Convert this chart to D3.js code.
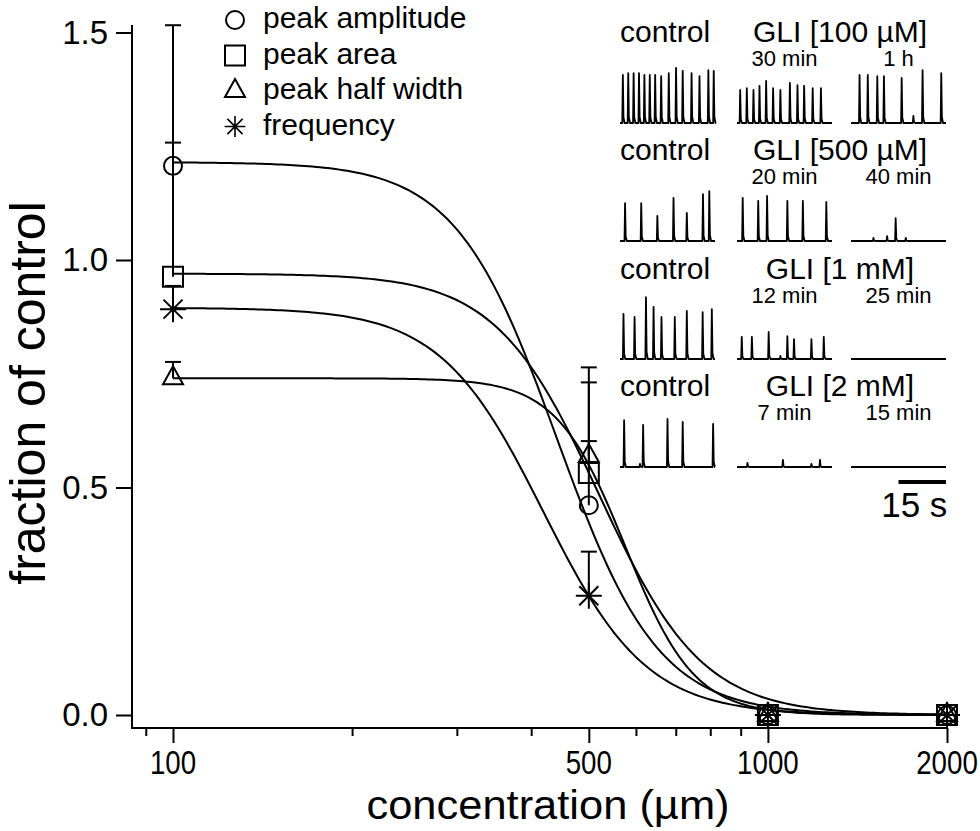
<!DOCTYPE html>
<meta charset="utf-8">
<script src="https://d3js.org/d3.v7.min.js"></script>
<style>
body { margin: 0; background: #fff; }
svg { font-family: "Liberation Sans", Arial, sans-serif; }
</style>
<div id="main"></div>
<script>

// concentrations (µM) and mean fraction of control, upper error bars
const conc = [100, 500, 1000, 2000];
const amplitude    = [1.207, 0.461, 0, 0];
const amplitudeErr = [0.309, 0.303, 0, 0];
const area         = [0.963, 0.532, 0, 0];
const areaErr      = [0.295, 0.199, 0, 0];
const halfWidth    = [0.740, 0.569, 0, 0];
const halfWidthErr = [0.036, 0.033, 0, 0];
const frequency    = [0.892, 0.262, 0, 0];
const frequencyErr = [0.051, 0.097, 0, 0];

// Hill fits: top, EC50 (µM), Hill coefficient
const fitTop  = [1.215, 0.970, 0.740, 0.895];
const fitEC50 = [442, 520, 576, 419];
const fitHill = [5.1, 5.0, 7.5, 5.0];

const seriesNames = ["peak amplitude", "peak area", "peak half width", "frequency"];
const seriesSymbols = ["circle", "square", "triangle", "asterisk"];

const xMajor = [100, 500, 1000, 2000];
const xMinor = [90, 200, 300, 400, 600, 700, 800, 900];
const yTicks = [0, 0.5, 1.0, 1.5];

// inset recordings: spikes as [time (s), relative amplitude]
const insetTitles = ["GLI [100 µM]", "GLI [500 µM]", "GLI [1 mM]", "GLI [2 mM]"];
const insetTimes = [["30 min", "1 h"], ["20 min", "40 min"], ["12 min", "25 min"], ["7 min", "15 min"]];
const ctl100 = [[0.9,.80],[2.6,.83],[4.3,.83],[6.0,.83],[7.7,.80],[9.4,.80],[11.1,.80],[13.0,.78],[15.4,.83],[17.7,.92],[19.8,.87],[22.6,.83],[25.1,.78],[27.9,.88],[29.6,.87]];
const gli100a = [[1.0,.55],[3.1,.58],[5.2,.55],[7.1,.62],[9.2,.70],[11.4,.58],[13.7,.55],[16.7,.67],[19.1,.63],[21.2,.62],[23.9,.58],[26.5,.58]];
const gli100b = [[2.7,.80],[5.3,.80],[8.3,.78],[10.4,.78],[16.0,.75],[19.7,.12],[22.6,.88],[28.5,.83]];
const ctl500 = [[1.6,.63],[6.7,.63],[11.8,.42],[16.9,.72],[21.1,.47],[26.2,.78],[28.2,.83]];
const gli500a = [[1.8,.72],[6.7,.67],[9.5,.75],[15.9,.67],[20.8,.67],[28.2,.65]];
const gli500b = [[7.1,.05],[11.4,.08],[14.1,.38],[17.3,.05]];
const ctl1000 = [[1.1,.75],[4.6,.70],[8.2,1.03],[10.6,.87],[13.1,.70],[17.3,.70],[21.1,.80],[26.1,.78],[29.0,.83]];
const gli1000a = [[1.5,.37],[4.7,.37],[10.0,.45],[13.7,.05],[15.9,.38],[18.0,.33],[23.5,.33],[27.4,.37]];
const gli1000b = [];
const ctl2000 = [[1.3,.78],[6.3,.05],[7.3,.70],[15.0,.80],[19.8,.75],[29.4,.72]];
const gli2000a = [[3.3,.07],[14.5,.12],[23.5,.05],[26.2,.12]];
const gli2000b = [];
const insetTraces = [
  [ctl100, gli100a, gli100b],
  [ctl500, gli500a, gli500b],
  [ctl1000, gli1000a, gli1000b],
  [ctl2000, gli2000a, gli2000b]
];
const traceDuration = 30, scaleBarSec = 15;

const width = 980, height = 831;

const svg = d3.select("#main").append("svg")
    .attr("width", width)
    .attr("height", height);

const x = d3.scaleLog().domain([100, 2000]).range([173, 947]);
const y = d3.scaleLinear().domain([0, 1.5]).range([715, 32.5]);
const axisX = 132, axisY = 728;

// axes
const gx = svg.append("g").attr("transform", "translate(0," + axisY + ")");
gx.call(d3.axisBottom(x).tickValues(xMajor).tickSize(15).tickFormat(""));
gx.call(g => g.select(".domain").remove());
const gxm = svg.append("g").attr("transform", "translate(0," + axisY + ")");
gxm.call(d3.axisBottom(x).tickValues(xMinor).tickSize(8).tickFormat(""));
gxm.call(g => g.select(".domain").remove());
svg.selectAll(".tick line").attr("stroke-width", 2);

svg.append("line")
    .attr("x1", axisX).attr("x2", x(2000) + 1)
    .attr("y1", axisY).attr("y2", axisY)
    .attr("stroke", "#000").attr("stroke-width", 2);

svg.append("g").selectAll("text")
  .data(xMajor)
  .enter().append("text")
    .attr("transform", d => "translate(" + x(d) + ",774) scale(0.84,1)")
    .attr("text-anchor", "middle")
    .attr("font-size", 33)
    .text(d => d);

const gy = svg.append("g").attr("transform", "translate(" + axisX + ",0)");
gy.call(d3.axisLeft(y).tickValues(yTicks).tickSize(16).tickPadding(8).tickFormat(d3.format(".1f")));
gy.select(".domain").remove();
gy.selectAll(".tick line").attr("stroke-width", 2);
gy.selectAll("text").attr("font-size", 33).attr("font-family", "Liberation Sans, Arial, sans-serif").attr("fill", "#000");

svg.append("line")
    .attr("x1", axisX).attr("x2", axisX)
    .attr("y1", 25).attr("y2", axisY + 1)
    .attr("stroke", "#000").attr("stroke-width", 2);

svg.append("text")
    .attr("transform", "translate(548,819) scale(1.06,1)")
    .attr("text-anchor", "middle")
    .attr("font-size", 41)
    .text("concentration (µm)");

svg.append("text")
    .attr("transform", "translate(45,393) rotate(-90)")
    .attr("text-anchor", "middle")
    .attr("font-size", 50)
    .text("fraction of control");

// symbols
function symbolPath(type) {
  if (type === "circle") return d3.arc()({innerRadius: 0, outerRadius: 9, startAngle: 0, endAngle: 2 * Math.PI});
  if (type === "square") return "M-10,-10H10V10H-10Z";
  if (type === "triangle") return "M0,-12L10,6H-10Z";
  return "M-13,0H13M0,-13V13M-9.5,-9.5L9.5,9.5M-9.5,9.5L9.5,-9.5";
}

const series = seriesNames.map((name, i) => ({
  name: name,
  symbol: seriesSymbols[i],
  values: [amplitude, area, halfWidth, frequency][i],
  errors: [amplitudeErr, areaErr, halfWidthErr, frequencyErr][i],
  top: fitTop[i], ec50: fitEC50[i], hill: fitHill[i]
}));

// fitted curves
const fitX = d3.range(0, 1.0001, 0.005).map(t => 100 * Math.pow(20, t));
const line = d3.line().x(d => x(d[0])).y(d => y(d[1]));
svg.append("g").selectAll("path")
  .data(series)
  .enter().append("path")
    .attr("fill", "none")
    .attr("stroke", "#000")
    .attr("stroke-width", 2)
    .attr("d", s => line(fitX.map(c => [c, s.top / (1 + Math.pow(c / s.ec50, s.hill))])));

// error bars and markers
series.forEach(s => {
  const g = svg.append("g");
  const pts = conc.map((c, j) => ({c: c, v: s.values[j], e: s.errors[j]})).filter(p => p.e > 0);
  g.selectAll("line.bar").data(pts).enter().append("line")
      .attr("x1", p => x(p.c)).attr("x2", p => x(p.c))
      .attr("y1", p => y(p.v)).attr("y2", p => y(p.v + p.e))
      .attr("stroke", "#000").attr("stroke-width", 2);
  g.selectAll("line.cap").data(pts).enter().append("line")
      .attr("x1", p => x(p.c) - 8).attr("x2", p => x(p.c) + 8)
      .attr("y1", p => y(p.v + p.e)).attr("y2", p => y(p.v + p.e))
      .attr("stroke", "#000").attr("stroke-width", 2);
  g.selectAll("path").data(conc).enter().append("path")
      .attr("transform", (c, j) => "translate(" + x(c) + "," + y(s.values[j]) + ")")
      .attr("d", symbolPath(s.symbol))
      .attr("fill", "none")
      .attr("stroke", "#000")
      .attr("stroke-width", 2);
});

// legend
const legend = svg.append("g").selectAll("g")
  .data(series)
  .enter().append("g")
    .attr("transform", (s, i) => "translate(235," + (20 + i * 35.5) + ")");
legend.append("path")
    .attr("d", s => symbolPath(s.symbol))
    .attr("transform", s => s.symbol === "asterisk" ? "scale(0.8)" : null)
    .attr("fill", "none").attr("stroke", "#000").attr("stroke-width", 2);
legend.append("text")
    .attr("x", 28).attr("y", 8)
    .attr("font-size", 30)
    .text(s => s.name);

// inset recordings
const colX = [620, 737, 851], traceW = 95;
const rowBase = [123, 241, 359, 467];
const rowLabel = [42, 160, 279, 396];
const amp = d3.scaleLinear().domain([0, 1]).range([0, 60]);

insetTraces.forEach((row, r) => {
  svg.append("text").attr("x", 620).attr("y", rowLabel[r])
      .attr("font-size", 30).text("control");
  svg.append("text").attr("x", 840).attr("y", rowLabel[r])
      .attr("text-anchor", "middle").attr("font-size", 30).text(insetTitles[r]);
  insetTimes[r].forEach((t, k) => {
    svg.append("text").attr("x", colX[k + 1] + traceW / 2).attr("y", rowLabel[r] + 24)
        .attr("text-anchor", "middle").attr("font-size", 22).text(t);
  });
  row.forEach((spikes, k) => {
    const t = d3.scaleLinear().domain([0, traceDuration]).range([colX[k], colX[k] + traceW]);
    const pts = [[0, 0]];
    spikes.forEach(([s, a]) => {
      pts.push([s - 0.18, 0], [s, a], [s + 0.2, a * 0.12], [s + 0.55, 0]);
    });
    pts.push([traceDuration, 0]);
    svg.append("path")
        .attr("fill", "none").attr("stroke", "#000").attr("stroke-width", 1.8)
        .attr("stroke-linejoin", "round")
        .attr("d", d3.line().x(d => t(d[0])).y(d => rowBase[r] - amp(d[1]))(pts));
  });
});

// scale bar
const tBar = d3.scaleLinear().domain([0, traceDuration]).range([colX[2], colX[2] + traceW]);
svg.append("line")
    .attr("x1", tBar(traceDuration - scaleBarSec)).attr("x2", tBar(traceDuration))
    .attr("y1", 482).attr("y2", 482)
    .attr("stroke", "#000").attr("stroke-width", 4);
svg.append("text")
    .attr("x", (tBar(traceDuration - scaleBarSec) + tBar(traceDuration)) / 2 - 8).attr("y", 517)
    .attr("text-anchor", "middle").attr("font-size", 35)
    .text(scaleBarSec + " s");

</script>
